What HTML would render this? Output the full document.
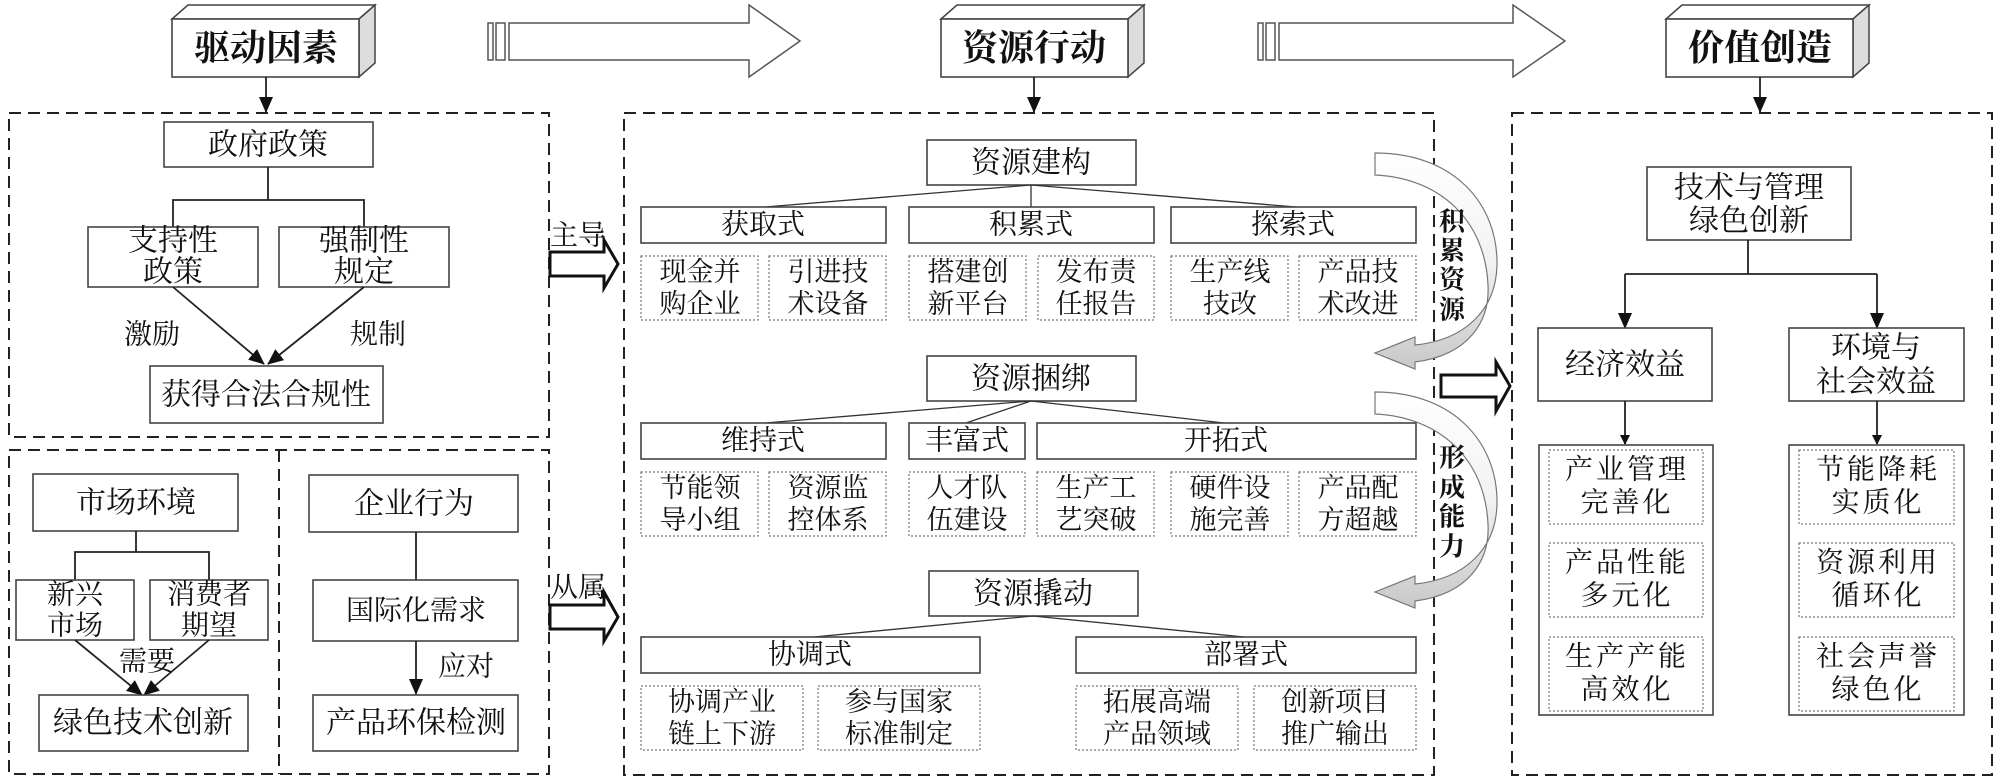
<!DOCTYPE html>
<html><head><meta charset="utf-8"><style>
html,body{margin:0;padding:0;background:#fff;}
svg{display:block;}
text{font-family:"Liberation Serif","Noto Serif CJK SC",serif;fill:#111;dominant-baseline:central;text-anchor:middle;}
.b{fill:#fff;stroke:#444;stroke-width:1.6;}
.d{fill:#fff;stroke:#777;stroke-width:1.2;stroke-dasharray:2,2;}
.dash{fill:none;stroke:#222;stroke-width:2;stroke-dasharray:12,7;}
.ln{fill:none;stroke:#222;stroke-width:1.8;}
.t30{font-size:30px;}
.t28{font-size:28px;}
.t27{font-size:27px;}
.h{font-size:36px;font-weight:bold;}
</style></head><body>
<svg width="2000" height="782" viewBox="0 0 2000 782" xmlns="http://www.w3.org/2000/svg">
<defs>
<marker id="ah" markerWidth="10" markerHeight="10" refX="9" refY="5" orient="auto" markerUnits="userSpaceOnUse" viewBox="0 0 10 10">
<path d="M0,0 L10,5 L0,10 Z" fill="#111"/></marker>
<marker id="ahb" markerWidth="16" markerHeight="16" refX="15" refY="8" orient="auto" markerUnits="userSpaceOnUse" viewBox="0 0 16 16">
<path d="M0,1 L16,8 L0,15 Z" fill="#111"/></marker>
<linearGradient id="g" x1="0" y1="0" x2="0" y2="1"><stop offset="0" stop-color="#fff"/><stop offset="0.5" stop-color="#f2f2f2"/><stop offset="1" stop-color="#c8c8c8"/></linearGradient>
</defs>

<!-- header boxes -->
<g>
<path d="M172,19 L188,5 L375,5 L359,19 Z" fill="#fff" stroke="#444" stroke-width="1.5"/>
<path d="M359,19 L375,5 L375,63 L359,77 Z" fill="#ddd" stroke="#444" stroke-width="1.5"/>
<rect x="172" y="19" width="187" height="58" class="b"/>
<text x="266" y="48" class="h">驱动因素</text>

<path d="M941,19 L957,5 L1144,5 L1128,19 Z" fill="#fff" stroke="#444" stroke-width="1.5"/>
<path d="M1128,19 L1144,5 L1144,63 L1128,77 Z" fill="#ddd" stroke="#444" stroke-width="1.5"/>
<rect x="941" y="19" width="187" height="58" class="b"/>
<text x="1034" y="48" class="h">资源行动</text>

<path d="M1666,19 L1682,5 L1869,5 L1853,19 Z" fill="#fff" stroke="#444" stroke-width="1.5"/>
<path d="M1853,19 L1869,5 L1869,63 L1853,77 Z" fill="#ddd" stroke="#444" stroke-width="1.5"/>
<rect x="1666" y="19" width="187" height="58" class="b"/>
<text x="1760" y="48" class="h">价值创造</text>
</g>
<line x1="266" y1="77" x2="266" y2="112" class="ln" stroke-width="3" marker-end="url(#ahb)"/>
<line x1="1034" y1="77" x2="1034" y2="112" class="ln" stroke-width="3" marker-end="url(#ahb)"/>
<line x1="1760" y1="77" x2="1760" y2="112" class="ln" stroke-width="3" marker-end="url(#ahb)"/>

<!-- big hollow arrows -->
<g fill="#fff" stroke="#555" stroke-width="1.5">
<rect x="488" y="23" width="5" height="37"/><rect x="496" y="23" width="9" height="37"/>
<path d="M509,23 L749,23 L749,5 L800,41 L749,77 L749,60 L509,60 Z"/>
<rect x="1258" y="23" width="5" height="37"/><rect x="1266" y="23" width="9" height="37"/>
<path d="M1279,23 L1513,23 L1513,5 L1565,41 L1513,77 L1513,60 L1279,60 Z"/>
</g>

<!-- dashed containers -->
<rect x="9" y="113" width="540" height="324" class="dash"/>
<rect x="9" y="450" width="540" height="324" class="dash"/>
<line x1="279" y1="450" x2="279" y2="774" class="dash"/>
<rect x="624" y="113" width="810" height="662" class="dash"/>
<rect x="1512" y="113" width="480" height="662" class="dash"/>

<!-- left top -->
<rect x="164" y="122" width="209" height="45" class="b"/><text x="268" y="145" class="t30">政府政策</text>
<path d="M268,167 V200 M173,227 V200 H364 V227" class="ln"/>
<rect x="88" y="227" width="170" height="60" class="b"/><text x="173" y="241" class="t30">支持性</text><text x="173" y="272" class="t30">政策</text>
<rect x="279" y="227" width="170" height="60" class="b"/><text x="364" y="241" class="t30">强制性</text><text x="364" y="272" class="t30">规定</text>
<line x1="173" y1="287" x2="264" y2="364" class="ln" marker-end="url(#ahb)"/>
<line x1="364" y1="287" x2="268" y2="364" class="ln" marker-end="url(#ahb)"/>
<text x="152" y="335" class="t28">激励</text><text x="378" y="335" class="t28">规制</text>
<rect x="150" y="366" width="233" height="57" class="b"/><text x="266" y="395" class="t30">获得合法合规性</text>

<!-- left bottom -->
<rect x="33" y="474" width="205" height="57" class="b"/><text x="136" y="503" class="t30">市场环境</text>
<path d="M136,531 V552 M75,580 V552 H209 V580" class="ln"/>
<rect x="16" y="580" width="118" height="60" class="b"/><text x="75" y="595" class="t28">新兴</text><text x="75" y="626" class="t28">市场</text>
<rect x="150" y="580" width="118" height="60" class="b"/><text x="209" y="595" class="t28">消费者</text><text x="209" y="626" class="t28">期望</text>
<line x1="75" y1="640" x2="142" y2="695" class="ln" marker-end="url(#ahb)"/>
<line x1="209" y1="640" x2="144" y2="695" class="ln" marker-end="url(#ahb)"/>
<text x="147" y="662" class="t28">需要</text>
<rect x="39" y="695" width="209" height="56" class="b"/><text x="143" y="723" class="t30">绿色技术创新</text>

<rect x="309" y="475" width="209" height="57" class="b"/><text x="414" y="504" class="t30">企业行为</text>
<line x1="416" y1="532" x2="416" y2="580" class="ln"/>
<rect x="313" y="580" width="205" height="61" class="b"/><text x="416" y="611" class="t28">国际化需求</text>
<line x1="416" y1="641" x2="416" y2="694" class="ln" marker-end="url(#ahb)"/>
<text x="466" y="667" class="t28">应对</text>
<rect x="313" y="695" width="205" height="56" class="b"/><text x="416" y="723" class="t30">产品环保检测</text>

<!-- 主导 / 从属 arrows -->
<text x="578" y="236" class="t28">主导</text>
<path d="M550,252 L604,252 L604,240 L618,264 L604,288 L604,276 L550,276 Z" fill="#fff" stroke="#111" stroke-width="3"/>
<text x="578" y="588" class="t28">从属</text>
<path d="M550,605 L604,605 L604,592 L618,617 L604,641 L604,629 L550,629 Z" fill="#fff" stroke="#111" stroke-width="3"/>

<!-- middle: 资源建构 -->
<rect x="927" y="140" width="209" height="45" class="b"/><text x="1031" y="163" class="t30">资源建构</text>
<path d="M1031,185 L765,207 M1031,185 L1031,207 M1031,185 L1296,207" fill="none" stroke="#333" stroke-width="1.3"/>
<rect x="641" y="207" width="245" height="36" class="b"/><text x="763" y="225" class="t28">获取式</text>
<rect x="909" y="207" width="245" height="36" class="b"/><text x="1031" y="225" class="t28">积累式</text>
<rect x="1171" y="207" width="245" height="36" class="b"/><text x="1293" y="225" class="t28">探索式</text>
<g class="t27">
<rect x="641" y="256" width="117" height="64" class="d"/><text x="700" y="272">现金并</text><text x="700" y="304">购企业</text>
<rect x="769" y="256" width="117" height="64" class="d"/><text x="828" y="272">引进技</text><text x="828" y="304">术设备</text>
<rect x="909" y="256" width="117" height="64" class="d"/><text x="968" y="272">搭建创</text><text x="968" y="304">新平台</text>
<rect x="1038" y="256" width="116" height="64" class="d"/><text x="1096" y="272">发布责</text><text x="1096" y="304">任报告</text>
<rect x="1171" y="256" width="117" height="64" class="d"/><text x="1230" y="272">生产线</text><text x="1230" y="304">技改</text>
<rect x="1299" y="256" width="117" height="64" class="d"/><text x="1358" y="272">产品技</text><text x="1358" y="304">术改进</text>
</g>

<!-- 资源捆绑 -->
<rect x="927" y="356" width="209" height="45" class="b"/><text x="1031" y="379" class="t30">资源捆绑</text>
<path d="M1031,401 L765,423 M1031,401 L966,423 M1031,401 L1224,423" fill="none" stroke="#333" stroke-width="1.3"/>
<rect x="641" y="423" width="245" height="36" class="b"/><text x="763" y="441" class="t28">维持式</text>
<rect x="909" y="423" width="116" height="36" class="b"/><text x="967" y="441" class="t28">丰富式</text>
<rect x="1037" y="423" width="379" height="36" class="b"/><text x="1226" y="441" class="t28">开拓式</text>
<g class="t27">
<rect x="641" y="472" width="117" height="64" class="d"/><text x="700" y="488">节能领</text><text x="700" y="520">导小组</text>
<rect x="769" y="472" width="117" height="64" class="d"/><text x="828" y="488">资源监</text><text x="828" y="520">控体系</text>
<rect x="909" y="472" width="116" height="64" class="d"/><text x="967" y="488">人才队</text><text x="967" y="520">伍建设</text>
<rect x="1037" y="472" width="117" height="64" class="d"/><text x="1096" y="488">生产工</text><text x="1096" y="520">艺突破</text>
<rect x="1171" y="472" width="117" height="64" class="d"/><text x="1230" y="488">硬件设</text><text x="1230" y="520">施完善</text>
<rect x="1299" y="472" width="117" height="64" class="d"/><text x="1358" y="488">产品配</text><text x="1358" y="520">方超越</text>
</g>

<!-- 资源撬动 -->
<rect x="929" y="571" width="209" height="45" class="b"/><text x="1033" y="594" class="t30">资源撬动</text>
<path d="M1033,616 L814,637 M1033,616 L1244,637" fill="none" stroke="#333" stroke-width="1.3"/>
<rect x="641" y="637" width="339" height="36" class="b"/><text x="810" y="655" class="t28">协调式</text>
<rect x="1076" y="637" width="340" height="36" class="b"/><text x="1246" y="655" class="t28">部署式</text>
<g class="t27">
<rect x="641" y="686" width="162" height="64" class="d"/><text x="722" y="702">协调产业</text><text x="722" y="734">链上下游</text>
<rect x="818" y="686" width="162" height="64" class="d"/><text x="899" y="702">参与国家</text><text x="899" y="734">标准制定</text>
<rect x="1076" y="686" width="162" height="64" class="d"/><text x="1157" y="702">拓展高端</text><text x="1157" y="734">产品领域</text>
<rect x="1254" y="686" width="162" height="64" class="d"/><text x="1335" y="702">创新项目</text><text x="1335" y="734">推广输出</text>
</g>

<!-- curved arrows -->
<path d="M1375,153 C1455,153 1498,205 1497,265 C1496,310 1465,340 1415,345 L1415,337 L1375,353 L1415,369 L1415,362 C1470,355 1490,320 1488,285 C1485,220 1440,178 1375,175 Z" fill="url(#g)" stroke="#777" stroke-width="1.2"/>
<path d="M1375,392 C1455,392 1498,444 1497,504 C1496,549 1465,579 1415,584 L1415,576 L1375,592 L1415,608 L1415,601 C1470,594 1490,559 1488,524 C1485,459 1440,417 1375,414 Z" fill="url(#g)" stroke="#777" stroke-width="1.2"/>
<g style="font-size:26px;font-weight:bold;">
<text x="1452" y="222">积</text><text x="1452" y="251">累</text><text x="1452" y="280">资</text><text x="1452" y="310">源</text>
<text x="1452" y="458">形</text><text x="1452" y="488">成</text><text x="1452" y="517">能</text><text x="1452" y="547">力</text>
</g>
<path d="M1441,375 L1496,375 L1496,362 L1510,386 L1496,411 L1496,397 L1441,397 Z" fill="#fff" stroke="#111" stroke-width="3"/>

<!-- right -->
<rect x="1647" y="167" width="204" height="73" class="b"/><text x="1749" y="188" class="t30">技术与管理</text><text x="1749" y="221" class="t30">绿色创新</text>
<path d="M1748,240 V274 M1625,274 H1877" class="ln"/>
<line x1="1625" y1="274" x2="1625" y2="328" class="ln" marker-end="url(#ahb)"/>
<line x1="1877" y1="274" x2="1877" y2="328" class="ln" marker-end="url(#ahb)"/>
<rect x="1538" y="328" width="174" height="73" class="b"/><text x="1625" y="365" class="t30">经济效益</text>
<rect x="1789" y="328" width="175" height="73" class="b"/><text x="1876" y="348" class="t30">环境与</text><text x="1876" y="382" class="t30">社会效益</text>
<line x1="1625" y1="401" x2="1625" y2="444" class="ln" stroke-width="1.4" marker-end="url(#ah)"/>
<line x1="1877" y1="401" x2="1877" y2="444" class="ln" stroke-width="1.4" marker-end="url(#ah)"/>
<rect x="1539" y="445" width="174" height="270" class="b"/>
<rect x="1789" y="445" width="175" height="270" class="b"/>
<g class="t28" style="letter-spacing:3px">
<rect x="1549" y="450" width="154" height="74" class="d"/><text x="1627" y="470">产业管理</text><text x="1627" y="503">完善化</text>
<rect x="1549" y="543" width="154" height="74" class="d"/><text x="1627" y="563">产品性能</text><text x="1627" y="596">多元化</text>
<rect x="1549" y="637" width="154" height="74" class="d"/><text x="1627" y="657">生产产能</text><text x="1627" y="690">高效化</text>
<rect x="1799" y="450" width="155" height="74" class="d"/><text x="1878" y="470">节能降耗</text><text x="1878" y="503">实质化</text>
<rect x="1799" y="543" width="155" height="74" class="d"/><text x="1878" y="563">资源利用</text><text x="1878" y="596">循环化</text>
<rect x="1799" y="637" width="155" height="74" class="d"/><text x="1878" y="657">社会声誉</text><text x="1878" y="690">绿色化</text>
</g>
</svg>
</body></html>
